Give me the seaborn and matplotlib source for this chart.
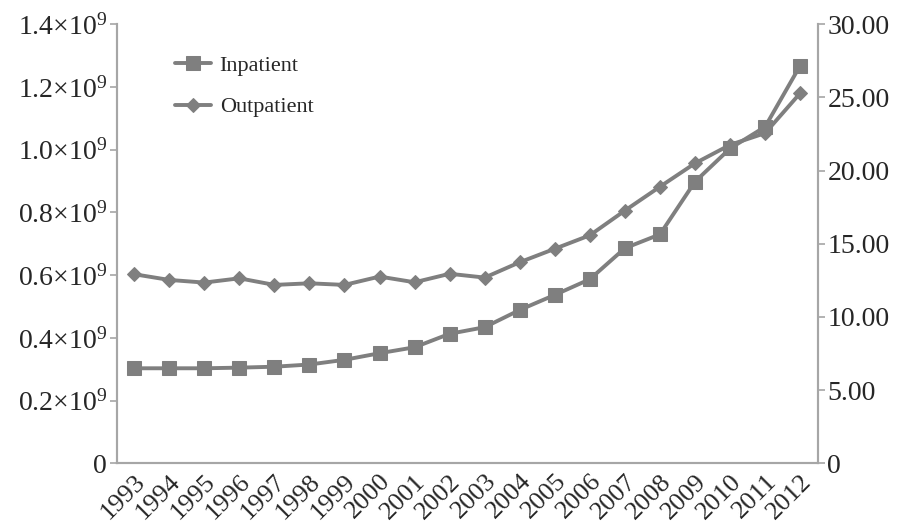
import matplotlib

matplotlib.use("Agg")
import matplotlib.pyplot as plt
import numpy as np
import pandas as pd
import seaborn as sns

years = [str(y) for y in range(1993, 2013)]
inpatient = [0.303, 0.303, 0.303, 0.305, 0.308, 0.315, 0.330, 0.351, 0.370, 0.413,
             0.434, 0.489, 0.537, 0.587, 0.686, 0.730, 0.898, 1.004, 1.073, 1.268]  # x10^9, left axis
outpatient = [12.92, 12.53, 12.35, 12.64, 12.19, 12.30, 12.19, 12.76, 12.37, 12.95,
              12.69, 13.74, 14.66, 15.58, 17.27, 18.90, 20.50, 21.76, 22.56, 25.29]  # right axis
left_ticks = [0, 0.2, 0.4, 0.6, 0.8, 1.0, 1.2, 1.4]
right_ticks = [0, 5, 10, 15, 20, 25, 30]

GREY = "#7f7f7f"
AXIS_GREY = "#a6a6a6"

sns.set_theme(style="white")
plt.rcParams["font.family"] = ["Liberation Serif", "DejaVu Serif"]
plt.rcParams["mathtext.fontset"] = "custom"
plt.rcParams["mathtext.rm"] = "Liberation Serif"

df = pd.DataFrame({"pos": np.arange(len(years)), "Inpatient": inpatient, "Outpatient": outpatient})

fig = plt.figure(figsize=(9.01, 5.27), dpi=100)
ax = fig.add_axes([0.1295, 0.1209, 0.7780, 0.8330])
ax2 = ax.twinx()

sns.lineplot(data=df, x="pos", y="Inpatient", ax=ax, color=GREY, lw=2.8,
             marker="s", markersize=10, markeredgecolor=GREY, label="Inpatient", legend=False)
sns.lineplot(data=df, x="pos", y="Outpatient", ax=ax2, color=GREY, lw=2.8,
             marker="D", markersize=7, markeredgecolor=GREY, label="Outpatient", legend=False)

ax.set_xlim(-0.5, len(years) - 0.5)
ax.set_ylim(0, 1.4)
ax2.set_ylim(0, 30)

ax.set_yticks(left_ticks)
ax.set_yticklabels(["0"] + [r"$\mathregular{%.1f{\times}10^9}$" % t for t in left_ticks[1:]], fontsize=20)
ax2.set_yticks(right_ticks)
ax2.set_yticklabels(["0"] + ["%.2f" % t for t in right_ticks[1:]], fontsize=20)

ax.set_xticks(np.arange(len(years)))
ax.set_xticklabels(years, rotation=45, ha="right", va="top", rotation_mode="anchor", fontsize=19)
ax.set_xticks(np.arange(len(years) + 1) - 0.5, minor=True)
ax.tick_params(axis="x", which="major", length=0, pad=5)
ax.tick_params(axis="x", which="minor", length=5, color=AXIS_GREY, width=1.2, direction="out")
ax.tick_params(axis="y", length=5, color=AXIS_GREY, width=1.2, direction="out", pad=2)
ax2.tick_params(axis="y", length=5, color=AXIS_GREY, width=1.2, direction="out", pad=2)

for a in (ax, ax2):
    a.set_xlabel("")
    a.set_ylabel("")
    a.spines["top"].set_visible(False)
    for s in ("left", "right", "bottom"):
        a.spines[s].set_color(AXIS_GREY)
        a.spines[s].set_linewidth(1.5)
    a.grid(False)

handles = ax.get_lines()[:1] + ax2.get_lines()[:1]
ax.legend(handles, ["Inpatient", "Outpatient"], loc="upper left", bbox_to_anchor=(0.055, 0.975),
          frameon=False, fontsize=16, labelspacing=0.95, handlelength=1.6, handletextpad=0.4)

fig.savefig("out.png", dpi=100)
